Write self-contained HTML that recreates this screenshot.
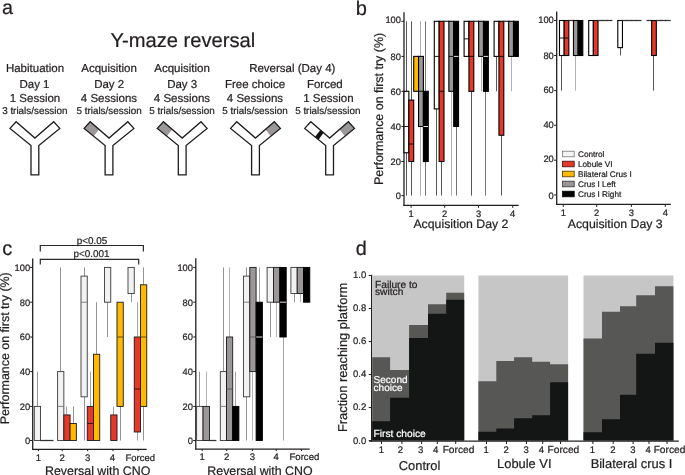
<!DOCTYPE html>
<html><head><meta charset="utf-8"><style>
html,body{margin:0;padding:0;background:#fff;width:685px;height:475px;overflow:hidden}
svg{display:block;will-change:transform}
text{font-family:"Liberation Sans",sans-serif;text-rendering:geometricPrecision;stroke-width:0.22px}
</style></head><body>
<svg width="685" height="475" viewBox="0 0 685 475">
<rect width="685" height="475" fill="#fff"/>
<text x="2.10" y="13.90" font-size="19.7" text-anchor="start" fill="#231f20" stroke="#231f20" >a</text>
<text x="110.40" y="46.60" font-size="20.15" text-anchor="start" fill="#231f20" stroke="#231f20" >Y-maze reversal</text>
<text x="35.00" y="71.90" font-size="11.5" text-anchor="middle" fill="#231f20" stroke="#231f20" >Habituation</text>
<text x="109.10" y="71.90" font-size="11.5" text-anchor="middle" fill="#231f20" stroke="#231f20" >Acquisition</text>
<text x="182.10" y="71.90" font-size="11.5" text-anchor="middle" fill="#231f20" stroke="#231f20" >Acquisition</text>
<text x="292.30" y="71.90" font-size="11.5" text-anchor="middle" fill="#231f20" stroke="#231f20" >Reversal (Day 4)</text>
<text x="34.50" y="88.00" font-size="11.5" text-anchor="middle" fill="#231f20" stroke="#231f20" >Day 1</text>
<text x="109.20" y="88.00" font-size="11.5" text-anchor="middle" fill="#231f20" stroke="#231f20" >Day 2</text>
<text x="182.20" y="88.00" font-size="11.5" text-anchor="middle" fill="#231f20" stroke="#231f20" >Day 3</text>
<text x="255.00" y="88.00" font-size="11.5" text-anchor="middle" fill="#231f20" stroke="#231f20" >Free choice</text>
<text x="324.80" y="88.00" font-size="11.5" text-anchor="middle" fill="#231f20" stroke="#231f20" >Forced</text>
<text x="35.00" y="102.10" font-size="11.5" text-anchor="middle" fill="#231f20" stroke="#231f20" >1 Session</text>
<text x="109.00" y="102.10" font-size="11.5" text-anchor="middle" fill="#231f20" stroke="#231f20" >4 Sessions</text>
<text x="182.00" y="102.10" font-size="11.5" text-anchor="middle" fill="#231f20" stroke="#231f20" >4 Sessions</text>
<text x="255.00" y="102.10" font-size="11.5" text-anchor="middle" fill="#231f20" stroke="#231f20" >4 Sessions</text>
<text x="328.40" y="102.10" font-size="11.5" text-anchor="middle" fill="#231f20" stroke="#231f20" >1 Session</text>
<text x="34.80" y="113.90" font-size="9.9" text-anchor="middle" fill="#231f20" stroke="#231f20" >3 trials/session</text>
<text x="109.10" y="113.90" font-size="9.9" text-anchor="middle" fill="#231f20" stroke="#231f20" >5 trials/session</text>
<text x="182.00" y="113.90" font-size="9.9" text-anchor="middle" fill="#231f20" stroke="#231f20" >5 trials/session</text>
<text x="255.00" y="113.90" font-size="9.9" text-anchor="middle" fill="#231f20" stroke="#231f20" >5 trials/session</text>
<text x="327.80" y="113.90" font-size="9.9" text-anchor="middle" fill="#231f20" stroke="#231f20" >5 trials/session</text>
<path d="M31.00,174.80 L31.00,145.50 L10.00,128.40 L16.10,121.70 L34.90,138.10 L53.70,121.70 L59.80,128.40 L38.80,145.50 L38.80,174.80 Z" fill="#ffffff" stroke="none" stroke-width="0" />
<path d="M31.00,174.80 L31.00,145.50 L10.00,128.40 L16.10,121.70 L34.90,138.10 L53.70,121.70 L59.80,128.40 L38.80,145.50 L38.80,174.80 Z" fill="none" stroke="#1e1e1e" stroke-width="1.3" stroke-linejoin="miter"/>
<path d="M105.10,174.80 L105.10,145.50 L84.10,128.40 L90.20,121.70 L109.00,138.10 L127.80,121.70 L133.90,128.40 L112.90,145.50 L112.90,174.80 Z" fill="#ffffff" stroke="none" stroke-width="0" />
<path d="M90.20,121.70 L99.04,129.41 L93.67,136.20 L84.10,128.40 Z" fill="#9b9797" stroke="none" stroke-width="0" />
<path d="M105.10,174.80 L105.10,145.50 L84.10,128.40 L90.20,121.70 L109.00,138.10 L127.80,121.70 L133.90,128.40 L112.90,145.50 L112.90,174.80 Z" fill="none" stroke="#1e1e1e" stroke-width="1.3" stroke-linejoin="miter"/>
<path d="M178.30,174.80 L178.30,145.50 L157.30,128.40 L163.40,121.70 L182.20,138.10 L201.00,121.70 L207.10,128.40 L186.10,145.50 L186.10,174.80 Z" fill="#ffffff" stroke="none" stroke-width="0" />
<path d="M163.40,121.70 L172.24,129.41 L166.87,136.20 L157.30,128.40 Z" fill="#9b9797" stroke="none" stroke-width="0" />
<path d="M178.30,174.80 L178.30,145.50 L157.30,128.40 L163.40,121.70 L182.20,138.10 L201.00,121.70 L207.10,128.40 L186.10,145.50 L186.10,174.80 Z" fill="none" stroke="#1e1e1e" stroke-width="1.3" stroke-linejoin="miter"/>
<path d="M251.60,174.80 L251.60,145.50 L230.60,128.40 L236.70,121.70 L255.50,138.10 L274.30,121.70 L280.40,128.40 L259.40,145.50 L259.40,174.80 Z" fill="#ffffff" stroke="none" stroke-width="0" />
<path d="M274.30,121.70 L265.46,129.41 L270.83,136.20 L280.40,128.40 Z" fill="#9b9797" stroke="none" stroke-width="0" />
<path d="M251.60,174.80 L251.60,145.50 L230.60,128.40 L236.70,121.70 L255.50,138.10 L274.30,121.70 L280.40,128.40 L259.40,145.50 L259.40,174.80 Z" fill="none" stroke="#1e1e1e" stroke-width="1.3" stroke-linejoin="miter"/>
<path d="M325.70,174.80 L325.70,145.50 L304.70,128.40 L310.80,121.70 L329.60,138.10 L348.40,121.70 L354.50,128.40 L333.50,145.50 L333.50,174.80 Z" fill="#ffffff" stroke="none" stroke-width="0" />
<path d="M348.40,121.70 L339.56,129.41 L344.93,136.20 L354.50,128.40 Z" fill="#9b9797" stroke="none" stroke-width="0" />
<path d="M320.39,130.06 L323.58,132.85 L318.55,139.68 L315.09,136.86 Z" fill="#111" stroke="none" stroke-width="0" />
<path d="M325.70,174.80 L325.70,145.50 L304.70,128.40 L310.80,121.70 L329.60,138.10 L348.40,121.70 L354.50,128.40 L333.50,145.50 L333.50,174.80 Z" fill="none" stroke="#1e1e1e" stroke-width="1.3" stroke-linejoin="miter"/>
<text x="355.70" y="14.70" font-size="20.0" text-anchor="start" fill="#231f20" stroke="#231f20" >b</text>
<text transform="translate(383.40,108.90) rotate(-90)" font-size="12.45" text-anchor="middle" fill="#231f20" stroke="#231f20">Performance on first try (%)</text>
<line x1="404.00" y1="12.20" x2="404.00" y2="205.90" stroke="#231f20" stroke-width="1.3"/>
<line x1="401.40" y1="195.60" x2="404.00" y2="195.60" stroke="#231f20" stroke-width="1.0"/>
<text x="401.00" y="198.95" font-size="9.35" text-anchor="end" fill="#231f20" stroke="#231f20" >0</text>
<line x1="401.40" y1="161.50" x2="404.00" y2="161.50" stroke="#231f20" stroke-width="1.0"/>
<text x="401.00" y="164.85" font-size="9.35" text-anchor="end" fill="#231f20" stroke="#231f20" >20</text>
<line x1="401.40" y1="126.50" x2="404.00" y2="126.50" stroke="#231f20" stroke-width="1.0"/>
<text x="401.00" y="129.85" font-size="9.35" text-anchor="end" fill="#231f20" stroke="#231f20" >40</text>
<line x1="401.40" y1="91.30" x2="404.00" y2="91.30" stroke="#231f20" stroke-width="1.0"/>
<text x="401.00" y="94.95" font-size="9.35" text-anchor="end" fill="#231f20" stroke="#231f20" >60</text>
<line x1="401.40" y1="56.40" x2="404.00" y2="56.40" stroke="#231f20" stroke-width="1.0"/>
<text x="401.00" y="59.50" font-size="9.35" text-anchor="end" fill="#231f20" stroke="#231f20" >80</text>
<line x1="401.40" y1="21.30" x2="404.00" y2="21.30" stroke="#231f20" stroke-width="1.0"/>
<text x="401.00" y="23.05" font-size="9.35" text-anchor="end" fill="#231f20" stroke="#231f20" >100</text>
<line x1="403.40" y1="205.30" x2="518.70" y2="205.30" stroke="#231f20" stroke-width="1.3"/>
<line x1="411.10" y1="205.30" x2="411.10" y2="207.80" stroke="#231f20" stroke-width="1.0"/>
<text x="411.10" y="217.00" font-size="9.35" text-anchor="middle" fill="#231f20" stroke="#231f20" >1</text>
<line x1="444.70" y1="205.30" x2="444.70" y2="207.80" stroke="#231f20" stroke-width="1.0"/>
<text x="444.70" y="217.00" font-size="9.35" text-anchor="middle" fill="#231f20" stroke="#231f20" >2</text>
<line x1="478.50" y1="205.30" x2="478.50" y2="207.80" stroke="#231f20" stroke-width="1.0"/>
<text x="478.50" y="217.00" font-size="9.35" text-anchor="middle" fill="#231f20" stroke="#231f20" >3</text>
<line x1="512.70" y1="205.30" x2="512.70" y2="207.80" stroke="#231f20" stroke-width="1.0"/>
<text x="512.70" y="217.00" font-size="9.35" text-anchor="middle" fill="#231f20" stroke="#231f20" >4</text>
<text x="460.90" y="227.90" font-size="12.3" text-anchor="middle" fill="#231f20" stroke="#231f20" >Acquisition Day 2</text>
<line x1="406.50" y1="91.30" x2="406.50" y2="21.30" stroke="#444" stroke-width="0.9"/>
<line x1="406.50" y1="152.75" x2="406.50" y2="195.60" stroke="#444" stroke-width="0.9"/>
<line x1="411.50" y1="100.10" x2="411.50" y2="21.30" stroke="#444" stroke-width="0.9"/>
<line x1="411.50" y1="161.50" x2="411.50" y2="195.60" stroke="#444" stroke-width="0.9"/>
<line x1="420.50" y1="56.40" x2="420.50" y2="21.30" stroke="#a8a8a8" stroke-width="0.9"/>
<line x1="420.50" y1="126.50" x2="420.50" y2="195.60" stroke="#a8a8a8" stroke-width="0.9"/>
<line x1="425.50" y1="91.30" x2="425.50" y2="21.30" stroke="#666" stroke-width="0.9"/>
<line x1="425.50" y1="161.50" x2="425.50" y2="195.60" stroke="#666" stroke-width="0.9"/>
<rect x="404.00" y="91.30" width="4.85" height="61.45" fill="#ffffff" stroke="#000" stroke-width="1.1"/>
<line x1="404.10" y1="126.50" x2="408.75" y2="126.50" stroke="#000" stroke-width="0.9"/>
<rect x="408.85" y="100.10" width="4.85" height="61.40" fill="#e63828" stroke="#000" stroke-width="1.1"/>
<line x1="408.95" y1="144.00" x2="413.60" y2="144.00" stroke="#000" stroke-width="0.9"/>
<rect x="413.70" y="56.40" width="4.85" height="34.90" fill="#ffb900" stroke="#000" stroke-width="1.1"/>
<rect x="418.55" y="56.40" width="4.85" height="70.10" fill="#9b9797" stroke="#000" stroke-width="1.1"/>
<line x1="418.65" y1="91.30" x2="423.30" y2="91.30" stroke="#000" stroke-width="0.9"/>
<rect x="423.40" y="91.30" width="4.85" height="70.20" fill="#000000" stroke="#000" stroke-width="1.1"/>
<line x1="423.50" y1="126.50" x2="428.15" y2="126.50" stroke="#ffffff" stroke-width="0.9"/>
<line x1="436.50" y1="108.90" x2="436.50" y2="195.60" stroke="#444" stroke-width="0.9"/>
<line x1="441.50" y1="161.50" x2="441.50" y2="195.60" stroke="#444" stroke-width="0.9"/>
<line x1="451.50" y1="91.30" x2="451.50" y2="195.60" stroke="#a8a8a8" stroke-width="0.9"/>
<line x1="456.50" y1="126.50" x2="456.50" y2="195.60" stroke="#666" stroke-width="0.9"/>
<rect x="434.30" y="21.30" width="4.85" height="87.60" fill="#ffffff" stroke="#000" stroke-width="1.1"/>
<line x1="434.40" y1="56.40" x2="439.05" y2="56.40" stroke="#000" stroke-width="0.9"/>
<rect x="439.15" y="21.30" width="4.85" height="140.20" fill="#e63828" stroke="#000" stroke-width="1.1"/>
<line x1="439.25" y1="91.30" x2="443.90" y2="91.30" stroke="#000" stroke-width="0.9"/>
<line x1="443.55" y1="21.30" x2="449.30" y2="21.30" stroke="#333" stroke-width="1.25"/>
<rect x="448.85" y="21.30" width="4.85" height="70.00" fill="#9b9797" stroke="#000" stroke-width="1.1"/>
<line x1="448.95" y1="56.40" x2="453.60" y2="56.40" stroke="#000" stroke-width="0.9"/>
<rect x="453.70" y="21.30" width="4.85" height="105.20" fill="#000000" stroke="#000" stroke-width="1.1"/>
<line x1="453.80" y1="56.40" x2="458.45" y2="56.40" stroke="#ffffff" stroke-width="0.9"/>
<line x1="471.50" y1="91.30" x2="471.50" y2="195.60" stroke="#444" stroke-width="0.9"/>
<line x1="481.50" y1="56.40" x2="481.50" y2="91.30" stroke="#a8a8a8" stroke-width="0.9"/>
<line x1="485.50" y1="91.30" x2="485.50" y2="195.60" stroke="#666" stroke-width="0.9"/>
<rect x="464.10" y="21.30" width="4.85" height="35.10" fill="#ffffff" stroke="#000" stroke-width="1.1"/>
<line x1="464.20" y1="38.85" x2="468.85" y2="38.85" stroke="#000" stroke-width="0.9"/>
<rect x="468.95" y="21.30" width="4.85" height="70.00" fill="#e63828" stroke="#000" stroke-width="1.1"/>
<line x1="469.05" y1="56.40" x2="473.70" y2="56.40" stroke="#000" stroke-width="0.9"/>
<line x1="473.35" y1="21.30" x2="479.10" y2="21.30" stroke="#333" stroke-width="1.25"/>
<rect x="478.65" y="21.30" width="4.85" height="35.10" fill="#9b9797" stroke="#000" stroke-width="1.1"/>
<rect x="483.50" y="21.30" width="4.85" height="70.00" fill="#000000" stroke="#000" stroke-width="1.1"/>
<line x1="483.60" y1="56.40" x2="488.25" y2="56.40" stroke="#ffffff" stroke-width="0.9"/>
<line x1="496.50" y1="56.40" x2="496.50" y2="91.30" stroke="#444" stroke-width="0.9"/>
<line x1="501.50" y1="135.25" x2="501.50" y2="195.60" stroke="#444" stroke-width="0.9"/>
<line x1="511.50" y1="56.40" x2="511.50" y2="91.30" stroke="#a8a8a8" stroke-width="0.9"/>
<rect x="494.10" y="21.30" width="4.85" height="35.10" fill="#ffffff" stroke="#000" stroke-width="1.1"/>
<rect x="498.95" y="21.30" width="4.85" height="113.95" fill="#e63828" stroke="#000" stroke-width="1.1"/>
<line x1="499.05" y1="56.40" x2="503.70" y2="56.40" stroke="#000" stroke-width="0.9"/>
<line x1="503.35" y1="21.30" x2="509.10" y2="21.30" stroke="#333" stroke-width="1.25"/>
<rect x="508.65" y="21.30" width="4.85" height="35.10" fill="#9b9797" stroke="#000" stroke-width="1.1"/>
<rect x="513.50" y="21.30" width="4.85" height="35.10" fill="#000000" stroke="#000" stroke-width="1.1"/>
<line x1="556.70" y1="11.50" x2="556.70" y2="205.00" stroke="#231f20" stroke-width="1.3"/>
<line x1="554.10" y1="195.00" x2="556.70" y2="195.00" stroke="#231f20" stroke-width="1.0"/>
<text x="553.80" y="198.55" font-size="9.35" text-anchor="end" fill="#231f20" stroke="#231f20" >0</text>
<line x1="554.10" y1="160.20" x2="556.70" y2="160.20" stroke="#231f20" stroke-width="1.0"/>
<text x="553.80" y="162.35" font-size="9.35" text-anchor="end" fill="#231f20" stroke="#231f20" >20</text>
<line x1="554.10" y1="125.30" x2="556.70" y2="125.30" stroke="#231f20" stroke-width="1.0"/>
<text x="553.80" y="127.85" font-size="9.35" text-anchor="end" fill="#231f20" stroke="#231f20" >40</text>
<line x1="554.10" y1="90.60" x2="556.70" y2="90.60" stroke="#231f20" stroke-width="1.0"/>
<text x="553.80" y="93.25" font-size="9.35" text-anchor="end" fill="#231f20" stroke="#231f20" >60</text>
<line x1="554.10" y1="55.50" x2="556.70" y2="55.50" stroke="#231f20" stroke-width="1.0"/>
<text x="553.80" y="58.85" font-size="9.35" text-anchor="end" fill="#231f20" stroke="#231f20" >80</text>
<line x1="554.10" y1="20.50" x2="556.70" y2="20.50" stroke="#231f20" stroke-width="1.0"/>
<text x="553.80" y="22.65" font-size="9.35" text-anchor="end" fill="#231f20" stroke="#231f20" >100</text>
<line x1="556.10" y1="204.40" x2="670.80" y2="204.40" stroke="#231f20" stroke-width="1.3"/>
<line x1="563.30" y1="204.40" x2="563.30" y2="206.90" stroke="#231f20" stroke-width="1.0"/>
<text x="563.30" y="216.20" font-size="9.35" text-anchor="middle" fill="#231f20" stroke="#231f20" >1</text>
<line x1="596.70" y1="204.40" x2="596.70" y2="206.90" stroke="#231f20" stroke-width="1.0"/>
<text x="596.70" y="216.20" font-size="9.35" text-anchor="middle" fill="#231f20" stroke="#231f20" >2</text>
<line x1="631.40" y1="204.40" x2="631.40" y2="206.90" stroke="#231f20" stroke-width="1.0"/>
<text x="631.40" y="216.20" font-size="9.35" text-anchor="middle" fill="#231f20" stroke="#231f20" >3</text>
<line x1="665.30" y1="204.40" x2="665.30" y2="206.90" stroke="#231f20" stroke-width="1.0"/>
<text x="665.30" y="216.20" font-size="9.35" text-anchor="middle" fill="#231f20" stroke="#231f20" >4</text>
<text x="615.20" y="228.30" font-size="12.3" text-anchor="middle" fill="#231f20" stroke="#231f20" >Acquisition Day 3</text>
<line x1="561.50" y1="55.50" x2="561.50" y2="90.60" stroke="#444" stroke-width="0.9"/>
<line x1="575.50" y1="55.50" x2="575.50" y2="90.60" stroke="#a8a8a8" stroke-width="0.9"/>
<rect x="559.50" y="20.50" width="4.66" height="35.00" fill="#ffffff" stroke="#000" stroke-width="1.1"/>
<line x1="559.60" y1="38.00" x2="564.06" y2="38.00" stroke="#000" stroke-width="0.9"/>
<rect x="564.16" y="20.50" width="4.66" height="35.00" fill="#e63828" stroke="#000" stroke-width="1.1"/>
<line x1="564.26" y1="38.00" x2="568.72" y2="38.00" stroke="#000" stroke-width="0.9"/>
<line x1="568.37" y1="20.50" x2="573.93" y2="20.50" stroke="#333" stroke-width="1.25"/>
<rect x="573.48" y="20.50" width="4.66" height="35.00" fill="#9b9797" stroke="#000" stroke-width="1.1"/>
<rect x="578.14" y="20.50" width="4.66" height="35.00" fill="#000000" stroke="#000" stroke-width="1.1"/>
<rect x="588.70" y="20.50" width="4.66" height="35.00" fill="#ffffff" stroke="#000" stroke-width="1.1"/>
<rect x="593.36" y="20.50" width="4.66" height="35.00" fill="#e63828" stroke="#000" stroke-width="1.1"/>
<line x1="597.57" y1="20.50" x2="603.13" y2="20.50" stroke="#333" stroke-width="1.25"/>
<line x1="602.23" y1="20.50" x2="607.79" y2="20.50" stroke="#333" stroke-width="1.25"/>
<line x1="606.89" y1="20.50" x2="612.45" y2="20.50" stroke="#333" stroke-width="1.25"/>
<line x1="620.50" y1="47.62" x2="620.50" y2="55.50" stroke="#444" stroke-width="0.9"/>
<rect x="617.80" y="20.50" width="4.66" height="27.12" fill="#ffffff" stroke="#000" stroke-width="1.1"/>
<line x1="622.01" y1="20.50" x2="627.57" y2="20.50" stroke="#333" stroke-width="1.25"/>
<line x1="626.67" y1="20.50" x2="632.23" y2="20.50" stroke="#333" stroke-width="1.25"/>
<line x1="631.33" y1="20.50" x2="636.89" y2="20.50" stroke="#333" stroke-width="1.25"/>
<line x1="635.99" y1="20.50" x2="641.55" y2="20.50" stroke="#333" stroke-width="1.25"/>
<line x1="653.50" y1="55.50" x2="653.50" y2="90.60" stroke="#444" stroke-width="0.9"/>
<line x1="646.55" y1="20.50" x2="652.11" y2="20.50" stroke="#333" stroke-width="1.25"/>
<rect x="651.66" y="20.50" width="4.66" height="35.00" fill="#e63828" stroke="#000" stroke-width="1.1"/>
<line x1="655.87" y1="20.50" x2="661.43" y2="20.50" stroke="#333" stroke-width="1.25"/>
<line x1="660.53" y1="20.50" x2="666.09" y2="20.50" stroke="#333" stroke-width="1.25"/>
<line x1="665.19" y1="20.50" x2="670.75" y2="20.50" stroke="#333" stroke-width="1.25"/>
<rect x="562.60" y="151.20" width="11.60" height="5.60" fill="#f4f4f4" stroke="#777" stroke-width="0.8"/>
<text x="578.00" y="157.00" font-size="8.2" text-anchor="start" fill="#231f20" stroke="#231f20" >Control</text>
<rect x="562.60" y="161.20" width="11.60" height="5.60" fill="#e63828" stroke="#3a1010" stroke-width="0.8"/>
<text x="578.00" y="167.00" font-size="8.2" text-anchor="start" fill="#231f20" stroke="#231f20" >Lobule VI</text>
<rect x="562.60" y="171.20" width="11.60" height="5.60" fill="#ffb900" stroke="#4a3a00" stroke-width="0.8"/>
<text x="578.00" y="177.00" font-size="8.2" text-anchor="start" fill="#231f20" stroke="#231f20" >Bilateral Crus I</text>
<rect x="562.60" y="181.20" width="11.60" height="5.60" fill="#9b9797" stroke="#333" stroke-width="0.8"/>
<text x="578.00" y="187.00" font-size="8.2" text-anchor="start" fill="#231f20" stroke="#231f20" >Crus I Left</text>
<rect x="562.60" y="191.20" width="11.60" height="5.60" fill="#000" stroke="#000" stroke-width="0.8"/>
<text x="578.00" y="197.00" font-size="8.2" text-anchor="start" fill="#231f20" stroke="#231f20" >Crus I Right</text>
<text x="2.20" y="255.10" font-size="20.0" text-anchor="start" fill="#231f20" stroke="#231f20" >c</text>
<text transform="translate(9.00,348.30) rotate(-90)" font-size="12.45" text-anchor="middle" fill="#231f20" stroke="#231f20">Performance on first try (%)</text>
<line x1="40.30" y1="245.50" x2="143.40" y2="245.50" stroke="#2a2a2a" stroke-width="1.2"/>
<line x1="40.30" y1="244.90" x2="40.30" y2="251.40" stroke="#2a2a2a" stroke-width="1.2"/>
<line x1="143.40" y1="244.90" x2="143.40" y2="251.40" stroke="#2a2a2a" stroke-width="1.2"/>
<text x="92.00" y="243.50" font-size="9.9" text-anchor="middle" fill="#231f20" stroke="#231f20" >p&lt;0.05</text>
<line x1="40.30" y1="259.30" x2="138.70" y2="259.30" stroke="#2a2a2a" stroke-width="1.2"/>
<line x1="40.30" y1="258.70" x2="40.30" y2="264.60" stroke="#2a2a2a" stroke-width="1.2"/>
<line x1="138.70" y1="258.70" x2="138.70" y2="264.60" stroke="#2a2a2a" stroke-width="1.2"/>
<text x="91.40" y="256.60" font-size="9.9" text-anchor="middle" fill="#231f20" stroke="#231f20" >p&lt;0.001</text>
<line x1="32.70" y1="258.50" x2="32.70" y2="449.90" stroke="#231f20" stroke-width="1.3"/>
<line x1="30.10" y1="440.50" x2="32.70" y2="440.50" stroke="#231f20" stroke-width="1.0"/>
<text x="30.20" y="443.85" font-size="9.35" text-anchor="end" fill="#231f20" stroke="#231f20" >0</text>
<line x1="30.10" y1="406.40" x2="32.70" y2="406.40" stroke="#231f20" stroke-width="1.0"/>
<text x="30.20" y="409.75" font-size="9.35" text-anchor="end" fill="#231f20" stroke="#231f20" >20</text>
<line x1="30.10" y1="371.60" x2="32.70" y2="371.60" stroke="#231f20" stroke-width="1.0"/>
<text x="30.20" y="374.95" font-size="9.35" text-anchor="end" fill="#231f20" stroke="#231f20" >40</text>
<line x1="30.10" y1="337.00" x2="32.70" y2="337.00" stroke="#231f20" stroke-width="1.0"/>
<text x="30.20" y="340.35" font-size="9.35" text-anchor="end" fill="#231f20" stroke="#231f20" >60</text>
<line x1="30.10" y1="302.20" x2="32.70" y2="302.20" stroke="#231f20" stroke-width="1.0"/>
<text x="30.20" y="305.55" font-size="9.35" text-anchor="end" fill="#231f20" stroke="#231f20" >80</text>
<line x1="30.10" y1="267.40" x2="32.70" y2="267.40" stroke="#231f20" stroke-width="1.0"/>
<text x="30.20" y="270.75" font-size="9.35" text-anchor="end" fill="#231f20" stroke="#231f20" >100</text>
<line x1="32.10" y1="449.30" x2="146.70" y2="449.30" stroke="#231f20" stroke-width="1.3"/>
<line x1="38.40" y1="449.30" x2="38.40" y2="451.20" stroke="#231f20" stroke-width="1.0"/>
<text x="38.40" y="461.20" font-size="9.5" text-anchor="middle" fill="#231f20" stroke="#231f20" >1</text>
<line x1="62.20" y1="449.30" x2="62.20" y2="451.20" stroke="#231f20" stroke-width="1.0"/>
<text x="62.20" y="461.20" font-size="9.5" text-anchor="middle" fill="#231f20" stroke="#231f20" >2</text>
<line x1="87.60" y1="449.30" x2="87.60" y2="451.20" stroke="#231f20" stroke-width="1.0"/>
<text x="87.60" y="461.20" font-size="9.5" text-anchor="middle" fill="#231f20" stroke="#231f20" >3</text>
<line x1="113.00" y1="449.30" x2="113.00" y2="451.20" stroke="#231f20" stroke-width="1.0"/>
<text x="112.40" y="461.20" font-size="9.5" text-anchor="middle" fill="#231f20" stroke="#231f20" >4</text>
<line x1="138.10" y1="449.30" x2="138.10" y2="451.20" stroke="#231f20" stroke-width="1.0"/>
<text x="140.30" y="461.20" font-size="9.5" text-anchor="middle" fill="#231f20" stroke="#231f20" >Forced</text>
<text x="97.70" y="474.50" font-size="12.4" text-anchor="middle" fill="#231f20" stroke="#231f20" >Reversal with CNO</text>
<line x1="37.50" y1="406.40" x2="37.50" y2="371.60" stroke="#888" stroke-width="0.9"/>
<rect x="34.30" y="406.40" width="6.25" height="34.10" fill="#f2f2f2" stroke="#3a3a3a" stroke-width="0.9"/>
<line x1="40.10" y1="440.50" x2="47.25" y2="440.50" stroke="#333" stroke-width="1.25"/>
<line x1="46.35" y1="440.50" x2="53.50" y2="440.50" stroke="#333" stroke-width="1.25"/>
<line x1="60.50" y1="371.60" x2="60.50" y2="267.40" stroke="#888" stroke-width="0.9"/>
<line x1="66.50" y1="414.92" x2="66.50" y2="406.40" stroke="#999" stroke-width="0.9"/>
<line x1="73.50" y1="423.45" x2="73.50" y2="406.40" stroke="#888" stroke-width="0.9"/>
<rect x="57.60" y="371.60" width="6.25" height="68.90" fill="#f2f2f2" stroke="#3a3a3a" stroke-width="0.9"/>
<line x1="57.70" y1="406.40" x2="63.75" y2="406.40" stroke="#777" stroke-width="0.9"/>
<rect x="63.85" y="414.92" width="6.25" height="25.58" fill="#e63828" stroke="#1a1a1a" stroke-width="0.9"/>
<rect x="70.10" y="423.45" width="6.25" height="17.05" fill="#ffb900" stroke="#1a1a1a" stroke-width="0.9"/>
<line x1="84.50" y1="276.10" x2="84.50" y2="267.40" stroke="#888" stroke-width="0.9"/>
<line x1="84.50" y1="396.83" x2="84.50" y2="440.50" stroke="#888" stroke-width="0.9"/>
<line x1="90.50" y1="406.40" x2="90.50" y2="371.60" stroke="#999" stroke-width="0.9"/>
<line x1="96.50" y1="354.30" x2="96.50" y2="302.20" stroke="#888" stroke-width="0.9"/>
<rect x="81.00" y="276.10" width="6.25" height="120.73" fill="#f2f2f2" stroke="#3a3a3a" stroke-width="0.9"/>
<line x1="81.10" y1="302.20" x2="87.15" y2="302.20" stroke="#777" stroke-width="0.9"/>
<rect x="87.25" y="406.40" width="6.25" height="34.10" fill="#e63828" stroke="#1a1a1a" stroke-width="0.9"/>
<line x1="87.35" y1="423.45" x2="93.40" y2="423.45" stroke="#3a0a0a" stroke-width="0.9"/>
<rect x="93.50" y="354.30" width="6.25" height="86.20" fill="#ffb900" stroke="#1a1a1a" stroke-width="0.9"/>
<line x1="107.50" y1="302.20" x2="107.50" y2="337.00" stroke="#888" stroke-width="0.9"/>
<line x1="113.50" y1="414.92" x2="113.50" y2="406.40" stroke="#999" stroke-width="0.9"/>
<line x1="120.50" y1="406.40" x2="120.50" y2="440.50" stroke="#888" stroke-width="0.9"/>
<rect x="104.50" y="267.40" width="6.25" height="34.80" fill="#f2f2f2" stroke="#3a3a3a" stroke-width="0.9"/>
<rect x="110.75" y="414.92" width="6.25" height="25.58" fill="#e63828" stroke="#1a1a1a" stroke-width="0.9"/>
<rect x="117.00" y="302.20" width="6.25" height="104.20" fill="#ffb900" stroke="#1a1a1a" stroke-width="0.9"/>
<line x1="117.10" y1="337.00" x2="123.15" y2="337.00" stroke="#5a4000" stroke-width="0.9"/>
<line x1="131.50" y1="293.50" x2="131.50" y2="302.20" stroke="#888" stroke-width="0.9"/>
<line x1="137.50" y1="337.00" x2="137.50" y2="302.20" stroke="#999" stroke-width="0.9"/>
<line x1="137.50" y1="431.98" x2="137.50" y2="440.50" stroke="#999" stroke-width="0.9"/>
<line x1="143.50" y1="284.80" x2="143.50" y2="267.40" stroke="#888" stroke-width="0.9"/>
<line x1="143.50" y1="406.40" x2="143.50" y2="440.50" stroke="#888" stroke-width="0.9"/>
<rect x="128.00" y="267.40" width="6.25" height="26.10" fill="#f2f2f2" stroke="#3a3a3a" stroke-width="0.9"/>
<rect x="134.25" y="337.00" width="6.25" height="94.98" fill="#e63828" stroke="#1a1a1a" stroke-width="0.9"/>
<line x1="134.35" y1="389.00" x2="140.40" y2="389.00" stroke="#3a0a0a" stroke-width="0.9"/>
<rect x="140.50" y="284.80" width="6.25" height="121.60" fill="#ffb900" stroke="#1a1a1a" stroke-width="0.9"/>
<line x1="140.60" y1="337.00" x2="146.65" y2="337.00" stroke="#5a4000" stroke-width="0.9"/>
<line x1="195.80" y1="258.20" x2="195.80" y2="449.60" stroke="#231f20" stroke-width="1.3"/>
<line x1="193.20" y1="440.50" x2="195.80" y2="440.50" stroke="#231f20" stroke-width="1.0"/>
<text x="193.00" y="443.85" font-size="9.35" text-anchor="end" fill="#231f20" stroke="#231f20" >0</text>
<line x1="193.20" y1="406.40" x2="195.80" y2="406.40" stroke="#231f20" stroke-width="1.0"/>
<text x="193.00" y="409.75" font-size="9.35" text-anchor="end" fill="#231f20" stroke="#231f20" >20</text>
<line x1="193.20" y1="371.60" x2="195.80" y2="371.60" stroke="#231f20" stroke-width="1.0"/>
<text x="193.00" y="374.95" font-size="9.35" text-anchor="end" fill="#231f20" stroke="#231f20" >40</text>
<line x1="193.20" y1="337.00" x2="195.80" y2="337.00" stroke="#231f20" stroke-width="1.0"/>
<text x="193.00" y="340.35" font-size="9.35" text-anchor="end" fill="#231f20" stroke="#231f20" >60</text>
<line x1="193.20" y1="302.20" x2="195.80" y2="302.20" stroke="#231f20" stroke-width="1.0"/>
<text x="193.00" y="305.55" font-size="9.35" text-anchor="end" fill="#231f20" stroke="#231f20" >80</text>
<line x1="193.20" y1="267.40" x2="195.80" y2="267.40" stroke="#231f20" stroke-width="1.0"/>
<text x="193.00" y="270.75" font-size="9.35" text-anchor="end" fill="#231f20" stroke="#231f20" >100</text>
<line x1="195.20" y1="449.20" x2="309.60" y2="449.20" stroke="#231f20" stroke-width="1.3"/>
<line x1="202.20" y1="449.20" x2="202.20" y2="451.10" stroke="#231f20" stroke-width="1.0"/>
<text x="202.20" y="459.50" font-size="9.5" text-anchor="middle" fill="#231f20" stroke="#231f20" >1</text>
<line x1="226.70" y1="449.20" x2="226.70" y2="451.10" stroke="#231f20" stroke-width="1.0"/>
<text x="226.70" y="459.50" font-size="9.5" text-anchor="middle" fill="#231f20" stroke="#231f20" >2</text>
<line x1="252.40" y1="449.20" x2="252.40" y2="451.10" stroke="#231f20" stroke-width="1.0"/>
<text x="252.40" y="459.50" font-size="9.5" text-anchor="middle" fill="#231f20" stroke="#231f20" >3</text>
<line x1="276.20" y1="449.20" x2="276.20" y2="451.10" stroke="#231f20" stroke-width="1.0"/>
<text x="276.20" y="459.50" font-size="9.5" text-anchor="middle" fill="#231f20" stroke="#231f20" >4</text>
<line x1="301.50" y1="449.20" x2="301.50" y2="451.10" stroke="#231f20" stroke-width="1.0"/>
<text x="304.40" y="459.50" font-size="9.6" text-anchor="middle" fill="#231f20" stroke="#231f20" >Forced</text>
<text x="260.00" y="474.50" font-size="12.4" text-anchor="middle" fill="#231f20" stroke="#231f20" >Reversal with CNO</text>
<line x1="199.50" y1="406.40" x2="199.50" y2="371.60" stroke="#888" stroke-width="0.9"/>
<line x1="206.50" y1="406.40" x2="206.50" y2="371.60" stroke="#aaa" stroke-width="0.9"/>
<rect x="196.60" y="406.40" width="6.45" height="34.10" fill="#f2f2f2" stroke="#3a3a3a" stroke-width="0.9"/>
<rect x="203.05" y="406.40" width="6.45" height="34.10" fill="#9b9797" stroke="#1a1a1a" stroke-width="0.9"/>
<line x1="209.05" y1="440.50" x2="216.40" y2="440.50" stroke="#333" stroke-width="1.25"/>
<line x1="223.50" y1="371.60" x2="223.50" y2="267.40" stroke="#888" stroke-width="0.9"/>
<line x1="229.50" y1="337.00" x2="229.50" y2="267.40" stroke="#aaa" stroke-width="0.9"/>
<line x1="235.50" y1="406.40" x2="235.50" y2="371.60" stroke="#999" stroke-width="0.9"/>
<rect x="220.30" y="371.60" width="6.20" height="68.90" fill="#f2f2f2" stroke="#3a3a3a" stroke-width="0.9"/>
<line x1="220.40" y1="406.40" x2="226.40" y2="406.40" stroke="#777" stroke-width="0.9"/>
<rect x="226.50" y="337.00" width="6.20" height="103.50" fill="#9b9797" stroke="#1a1a1a" stroke-width="0.9"/>
<line x1="226.60" y1="389.00" x2="232.60" y2="389.00" stroke="#555" stroke-width="0.9"/>
<rect x="232.70" y="406.40" width="6.20" height="34.10" fill="#000000" stroke="#000" stroke-width="0.9"/>
<line x1="246.50" y1="276.10" x2="246.50" y2="267.40" stroke="#888" stroke-width="0.9"/>
<line x1="246.50" y1="396.83" x2="246.50" y2="440.50" stroke="#888" stroke-width="0.9"/>
<line x1="252.50" y1="371.60" x2="252.50" y2="440.50" stroke="#aaa" stroke-width="0.9"/>
<line x1="259.50" y1="302.20" x2="259.50" y2="267.40" stroke="#999" stroke-width="0.9"/>
<rect x="243.50" y="276.10" width="6.30" height="120.73" fill="#f2f2f2" stroke="#3a3a3a" stroke-width="0.9"/>
<line x1="243.60" y1="302.20" x2="249.70" y2="302.20" stroke="#777" stroke-width="0.9"/>
<rect x="249.80" y="267.40" width="6.30" height="104.20" fill="#9b9797" stroke="#1a1a1a" stroke-width="0.9"/>
<line x1="249.90" y1="337.00" x2="256.00" y2="337.00" stroke="#555" stroke-width="0.9"/>
<rect x="256.10" y="302.20" width="6.30" height="138.30" fill="#000000" stroke="#000" stroke-width="0.9"/>
<line x1="256.20" y1="337.00" x2="262.30" y2="337.00" stroke="#fff" stroke-width="0.9"/>
<line x1="270.50" y1="302.20" x2="270.50" y2="337.00" stroke="#888" stroke-width="0.9"/>
<line x1="276.50" y1="302.20" x2="276.50" y2="337.00" stroke="#aaa" stroke-width="0.9"/>
<line x1="283.50" y1="337.00" x2="283.50" y2="440.50" stroke="#999" stroke-width="0.9"/>
<rect x="267.10" y="267.40" width="6.37" height="34.80" fill="#f2f2f2" stroke="#3a3a3a" stroke-width="0.9"/>
<rect x="273.47" y="267.40" width="6.37" height="34.80" fill="#9b9797" stroke="#1a1a1a" stroke-width="0.9"/>
<rect x="279.84" y="267.40" width="6.37" height="69.60" fill="#000000" stroke="#000" stroke-width="0.9"/>
<line x1="279.94" y1="302.20" x2="286.11" y2="302.20" stroke="#fff" stroke-width="0.9"/>
<line x1="294.50" y1="293.50" x2="294.50" y2="302.20" stroke="#888" stroke-width="0.9"/>
<line x1="300.50" y1="293.50" x2="300.50" y2="302.20" stroke="#aaa" stroke-width="0.9"/>
<rect x="290.90" y="267.40" width="6.30" height="26.10" fill="#f2f2f2" stroke="#3a3a3a" stroke-width="0.9"/>
<rect x="297.20" y="267.40" width="6.30" height="26.10" fill="#9b9797" stroke="#1a1a1a" stroke-width="0.9"/>
<rect x="303.50" y="267.40" width="6.30" height="34.80" fill="#000000" stroke="#000" stroke-width="0.9"/>
<text x="355.70" y="255.00" font-size="19.8" text-anchor="start" fill="#231f20" stroke="#231f20" >d</text>
<text transform="translate(347.40,357.40) rotate(-90)" font-size="12.87" text-anchor="middle" fill="#231f20" stroke="#231f20">Fraction reaching platform</text>
<line x1="371.60" y1="274.70" x2="371.60" y2="441.80" stroke="#231f20" stroke-width="1.2"/>
<line x1="368.70" y1="440.60" x2="371.60" y2="440.60" stroke="#231f20" stroke-width="1.0"/>
<text x="366.30" y="443.50" font-size="9.5" text-anchor="end" fill="#231f20" stroke="#231f20" >0.0</text>
<line x1="368.70" y1="407.58" x2="371.60" y2="407.58" stroke="#231f20" stroke-width="1.0"/>
<text x="366.30" y="410.48" font-size="9.5" text-anchor="end" fill="#231f20" stroke="#231f20" >0.2</text>
<line x1="368.70" y1="374.56" x2="371.60" y2="374.56" stroke="#231f20" stroke-width="1.0"/>
<text x="366.30" y="377.46" font-size="9.5" text-anchor="end" fill="#231f20" stroke="#231f20" >0.4</text>
<line x1="368.70" y1="341.54" x2="371.60" y2="341.54" stroke="#231f20" stroke-width="1.0"/>
<text x="366.30" y="344.44" font-size="9.5" text-anchor="end" fill="#231f20" stroke="#231f20" >0.6</text>
<line x1="368.70" y1="308.52" x2="371.60" y2="308.52" stroke="#231f20" stroke-width="1.0"/>
<text x="366.30" y="311.42" font-size="9.5" text-anchor="end" fill="#231f20" stroke="#231f20" >0.8</text>
<line x1="368.70" y1="275.50" x2="371.60" y2="275.50" stroke="#231f20" stroke-width="1.0"/>
<text x="366.30" y="278.40" font-size="9.5" text-anchor="end" fill="#231f20" stroke="#231f20" >1.0</text>
<rect x="372.20" y="275.50" width="92.00" height="165.10" fill="#c6c6c6" stroke="none" stroke-width="0"/>
<path d="M372.20,440.60 L372.20,357.22 L390.10,357.22 L390.10,370.10 L409.10,370.10 L409.10,325.03 L428.00,325.03 L428.00,304.23 L446.20,304.23 L446.20,292.67 L464.20,292.67 L464.20,440.60 Z" fill="#575756" stroke="none" stroke-width="0" />
<path d="M372.20,440.60 L372.20,421.28 L390.10,421.28 L390.10,397.67 L409.10,397.67 L409.10,338.07 L428.00,338.07 L428.00,313.80 L446.20,313.80 L446.20,299.77 L464.20,299.77 L464.20,440.60 Z" fill="#141515" stroke="none" stroke-width="0" />
<rect x="478.40" y="275.50" width="89.70" height="165.10" fill="#c6c6c6" stroke="none" stroke-width="0"/>
<path d="M478.40,440.60 L478.40,381.33 L496.30,381.33 L496.30,361.02 L514.10,361.02 L514.10,357.22 L532.20,357.22 L532.20,361.85 L550.10,361.85 L550.10,364.16 L568.10,364.16 L568.10,440.60 Z" fill="#575756" stroke="none" stroke-width="0" />
<path d="M478.40,440.60 L478.40,431.85 L496.30,431.85 L496.30,428.38 L514.10,428.38 L514.10,418.31 L532.20,418.31 L532.20,415.17 L550.10,415.17 L550.10,382.15 L568.10,382.15 L568.10,440.60 Z" fill="#141515" stroke="none" stroke-width="0" />
<rect x="583.50" y="275.50" width="89.90" height="165.10" fill="#c6c6c6" stroke="none" stroke-width="0"/>
<path d="M583.50,440.60 L583.50,338.57 L602.00,338.57 L602.00,311.82 L620.00,311.82 L620.00,306.37 L636.20,306.37 L636.20,295.31 L655.00,295.31 L655.00,286.23 L673.40,286.23 L673.40,440.60 Z" fill="#575756" stroke="none" stroke-width="0" />
<path d="M583.50,440.60 L583.50,432.18 L602.00,432.18 L602.00,419.14 L620.00,419.14 L620.00,394.87 L636.20,394.87 L636.20,353.76 L655.00,353.76 L655.00,342.86 L673.40,342.86 L673.40,440.60 Z" fill="#141515" stroke="none" stroke-width="0" />
<line x1="369.20" y1="441.10" x2="678.80" y2="441.10" stroke="#231f20" stroke-width="1.2"/>
<line x1="381.50" y1="441.10" x2="381.50" y2="444.00" stroke="#231f20" stroke-width="1.0"/>
<line x1="401.90" y1="441.10" x2="401.90" y2="444.00" stroke="#231f20" stroke-width="1.0"/>
<line x1="421.60" y1="441.10" x2="421.60" y2="444.00" stroke="#231f20" stroke-width="1.0"/>
<line x1="437.30" y1="441.10" x2="437.30" y2="444.00" stroke="#231f20" stroke-width="1.0"/>
<line x1="455.70" y1="441.10" x2="455.70" y2="444.00" stroke="#231f20" stroke-width="1.0"/>
<text x="381.30" y="453.30" font-size="9.5" text-anchor="middle" fill="#231f20" stroke="#231f20" >1</text>
<text x="400.30" y="453.30" font-size="9.5" text-anchor="middle" fill="#231f20" stroke="#231f20" >2</text>
<text x="420.70" y="453.30" font-size="9.5" text-anchor="middle" fill="#231f20" stroke="#231f20" >3</text>
<text x="435.60" y="453.30" font-size="9.5" text-anchor="middle" fill="#231f20" stroke="#231f20" >4</text>
<text x="458.50" y="453.30" font-size="10.2" text-anchor="middle" fill="#231f20" stroke="#231f20" >Forced</text>
<line x1="486.50" y1="441.10" x2="486.50" y2="444.00" stroke="#231f20" stroke-width="1.0"/>
<line x1="506.50" y1="441.10" x2="506.50" y2="444.00" stroke="#231f20" stroke-width="1.0"/>
<line x1="526.50" y1="441.10" x2="526.50" y2="444.00" stroke="#231f20" stroke-width="1.0"/>
<line x1="542.70" y1="441.10" x2="542.70" y2="444.00" stroke="#231f20" stroke-width="1.0"/>
<line x1="560.50" y1="441.10" x2="560.50" y2="444.00" stroke="#231f20" stroke-width="1.0"/>
<text x="486.10" y="453.30" font-size="9.5" text-anchor="middle" fill="#231f20" stroke="#231f20" >1</text>
<text x="506.20" y="453.30" font-size="9.5" text-anchor="middle" fill="#231f20" stroke="#231f20" >2</text>
<text x="526.20" y="453.30" font-size="9.5" text-anchor="middle" fill="#231f20" stroke="#231f20" >3</text>
<text x="541.50" y="453.30" font-size="9.5" text-anchor="middle" fill="#231f20" stroke="#231f20" >4</text>
<text x="563.40" y="453.30" font-size="10.2" text-anchor="middle" fill="#231f20" stroke="#231f20" >Forced</text>
<line x1="592.90" y1="441.10" x2="592.90" y2="444.00" stroke="#231f20" stroke-width="1.0"/>
<line x1="613.20" y1="441.10" x2="613.20" y2="444.00" stroke="#231f20" stroke-width="1.0"/>
<line x1="633.10" y1="441.10" x2="633.10" y2="444.00" stroke="#231f20" stroke-width="1.0"/>
<line x1="649.00" y1="441.10" x2="649.00" y2="444.00" stroke="#231f20" stroke-width="1.0"/>
<line x1="667.00" y1="441.10" x2="667.00" y2="444.00" stroke="#231f20" stroke-width="1.0"/>
<text x="592.40" y="453.30" font-size="9.5" text-anchor="middle" fill="#231f20" stroke="#231f20" >1</text>
<text x="612.80" y="453.30" font-size="9.5" text-anchor="middle" fill="#231f20" stroke="#231f20" >2</text>
<text x="633.00" y="453.30" font-size="9.5" text-anchor="middle" fill="#231f20" stroke="#231f20" >3</text>
<text x="648.10" y="453.30" font-size="9.5" text-anchor="middle" fill="#231f20" stroke="#231f20" >4</text>
<text x="669.50" y="453.30" font-size="10.2" text-anchor="middle" fill="#231f20" stroke="#231f20" >Forced</text>
<text x="419.60" y="469.50" font-size="12.9" text-anchor="middle" fill="#231f20" stroke="#231f20" >Control</text>
<text x="524.30" y="467.60" font-size="12.9" text-anchor="middle" fill="#231f20" stroke="#231f20" >Lobule VI</text>
<text x="631.50" y="467.60" font-size="12.9" text-anchor="middle" fill="#231f20" stroke="#231f20" >Bilateral crus I</text>
<text x="375.00" y="287.80" font-size="10.2" text-anchor="start" fill="#231f20" stroke="#231f20" >Failure to</text>
<text x="375.00" y="294.80" font-size="10.2" text-anchor="start" fill="#231f20" stroke="#231f20" >switch</text>
<text x="373.60" y="382.90" font-size="10.0" text-anchor="start" fill="#ffffff" stroke="#ffffff" >Second</text>
<text x="373.60" y="390.80" font-size="10.0" text-anchor="start" fill="#ffffff" stroke="#ffffff" >choice</text>
<text x="373.60" y="436.60" font-size="10.2" text-anchor="start" fill="#ffffff" stroke="#ffffff" >First choice</text>
</svg>
</body></html>
